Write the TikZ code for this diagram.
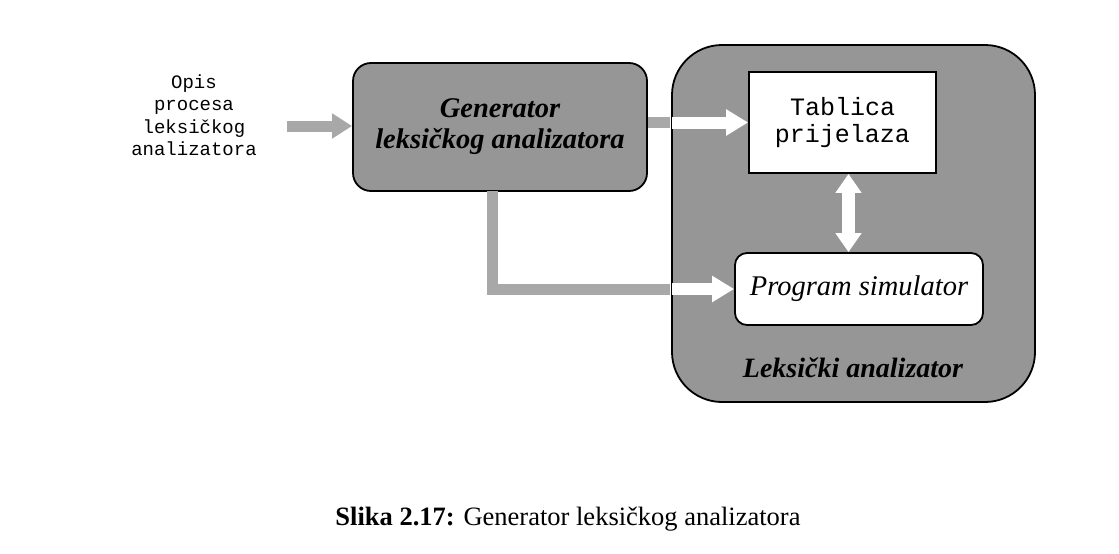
\documentclass[tikz,border=0pt]{standalone}
\usepackage{fontspec}
\setmainfont{Liberation Serif}
\setmonofont{Liberation Mono}
\usetikzlibrary{arrows.meta}
\definecolor{boxgray}{RGB}{150,150,150}
\definecolor{arrowgray}{RGB}{168,168,168}

\begin{document}
\begin{tikzpicture}[x=1pt, y=-1pt,
    graybox/.style={draw, line width=1.8pt, fill=boxgray},
    grayline/.style={draw=arrowgray, line width=11pt},
    grayarrow/.style={grayline, -{Triangle[length=20pt,width=24pt]}},
    whitearrow/.style={draw=white, line width=12pt, -{Triangle[length=22pt,width=25pt]}},
    whitearrows/.style={draw=white, line width=13pt, {Triangle[length=19pt,width=25pt]}-{Triangle[length=19pt,width=25pt]}}
  ]
    \useasboundingbox (0,0) rectangle (1119,554);

    % ボックス
    \node[graybox, rounded corners=50pt, minimum width=363pt, minimum height=357pt] (lex) at (853.5,223.5) {};
    \node[font=\fontsize{28}{30}\selectfont\bfseries\itshape] (lexname) at (853,368) {Leksički analizator};
    \node[draw, line width=1.8pt, fill=white, minimum width=187pt, minimum height=101pt, align=center,
          font=\fontsize{25}{27}\selectfont\ttfamily] (tab) at (842.5,122.5) {Tablica\\prijelaza};
    \node[draw, line width=1.8pt, fill=white, rounded corners=12pt, minimum width=248pt, minimum height=72pt,
          font=\fontsize{28.5}{30}\selectfont\itshape] (sim) at (859,289) {Program simulator};
    \node[graybox, rounded corners=18pt, minimum width=294pt, minimum height=128pt, align=center,
          font=\fontsize{28.5}{32}\selectfont\bfseries\itshape] (gen) at (500,127) {Generator\\[-1pt]leksičkog analizatora};
    \node[align=center, font=\fontsize{19}{22.5}\selectfont\ttfamily] (opis) at (194,115) {Opis\\procesa\\leksičkog\\analizatora};

    % 矢印
    \coordinate (in) at (287,126);
    \draw[grayarrow] (in) -- (in -| gen.west);
    \draw[grayline] (gen.east |- tab.west) -- ([xshift=-1pt]lex.west |- tab.west);
    \draw[whitearrow] ([xshift=1pt]lex.west |- tab.west) -- (tab.west);
    \draw[whitearrows] ([xshift=6pt]tab.south) -- ([xshift=6pt]tab.south |- sim.north);
    \draw[grayline] ([xshift=-8pt,yshift=1pt]gen.south) |- ([xshift=-1pt]lex.west |- sim.west);
    \draw[whitearrow] ([xshift=1pt]lex.west |- sim.west) -- (sim.west);

    % キャプション
    \node[font=\fontsize{26.5}{28}\selectfont] (cap) at (568,519) {\textbf{Slika 2.17:} Generator leksičkog analizatora};
\end{tikzpicture}
\end{document}
